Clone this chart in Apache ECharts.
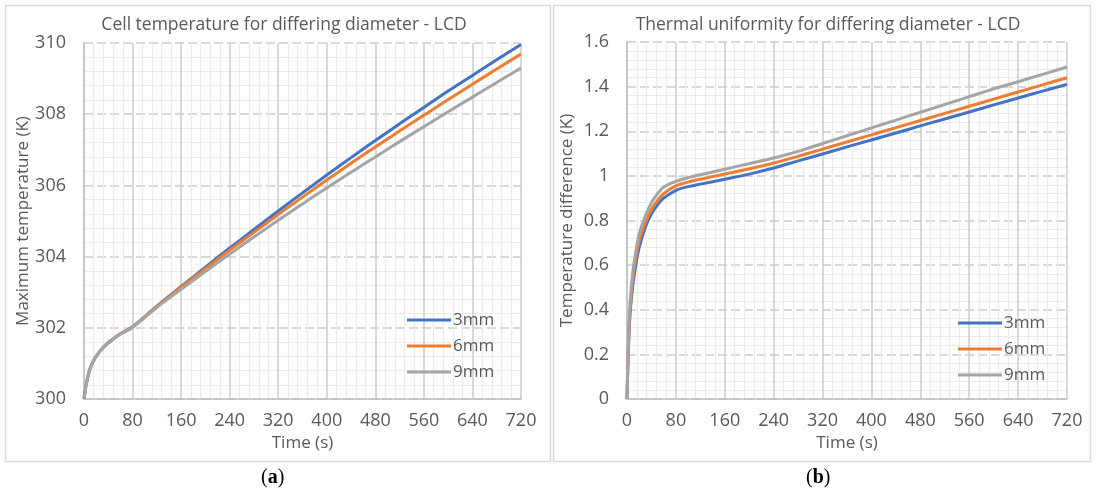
<!DOCTYPE html>
<html>
<head>
<meta charset="utf-8">
<script src="https://cdn.jsdelivr.net/npm/echarts@6/dist/echarts.min.js"></script>
<style>
html,body{margin:0;padding:0;background:#fff;}
#c{width:1097px;height:497px;}
</style>
</head>
<body>
<div id="c"></div>
<script>
// ---- Data: panel (a) Cell temperature ----
const timeA = [0,3,6,10,15,20,30,40,60,80,120,160,200,240,280,320,360,400,440,480,520,560,600,640,680,720];
const tempA_3mm = [300,300.35,300.6,300.85,301.05,301.2,301.42,301.58,301.83,302.03,302.61,303.16,303.70,304.24,304.76,305.28,305.79,306.29,306.78,307.26,307.73,308.19,308.65,309.09,309.53,309.96];
const tempA_6mm = [300,300.35,300.6,300.85,301.05,301.2,301.42,301.58,301.83,302.02,302.60,303.14,303.66,304.18,304.68,305.18,305.67,306.15,306.62,307.08,307.53,307.97,308.41,308.84,309.27,309.69];
const tempA_9mm = [300,300.35,300.6,300.85,301.05,301.2,301.42,301.58,301.82,302.01,302.57,303.08,303.58,304.07,304.55,305.02,305.48,305.93,306.37,306.80,307.23,307.65,308.07,308.48,308.89,309.30];

// ---- Data: panel (b) Thermal uniformity ----
const timeB = [0,2,5,10,15,20,30,40,50,60,80,100,120,160,200,240,280,320,360,400,440,480,520,560,600,640,680,720];
const diffB_3mm = [0,0.20,0.38,0.52,0.61,0.68,0.77,0.83,0.87,0.90,0.935,0.952,0.963,0.985,1.008,1.035,1.067,1.098,1.130,1.161,1.192,1.224,1.255,1.286,1.318,1.349,1.380,1.410];
const diffB_6mm = [0,0.21,0.40,0.55,0.64,0.71,0.79,0.85,0.89,0.92,0.955,0.972,0.985,1.008,1.032,1.058,1.088,1.120,1.152,1.184,1.216,1.248,1.280,1.312,1.344,1.376,1.408,1.440];
const diffB_9mm = [0,0.24,0.43,0.58,0.67,0.74,0.82,0.88,0.92,0.95,0.975,0.992,1.005,1.030,1.055,1.080,1.110,1.145,1.180,1.215,1.250,1.285,1.320,1.355,1.390,1.422,1.455,1.488];

const seriesNames = ['3mm','6mm','9mm'];
const colors = ['#4472C4','#ED7D31','#A5A5A5'];
const titles = ['Cell temperature for differing diameter - LCD','Thermal uniformity for differing diameter - LCD'];
const yNames = ['Maximum temperature (K)','Temperature difference (K)'];
const xName = 'Time (s)';

const FONT = 'Open Sans';
const TXT = '#595959';

function pairs(t, v){ return t.map((x,i)=>[x, v[i]]); }

function xAxis(gi){
  return {
    type:'value', gridIndex:gi, min:0, max:720, interval:80,
    name:xName, nameLocation:'middle', nameGap:34,
    nameTextStyle:{color:TXT, fontFamily:FONT, fontSize:17},
    axisLine:{show:true, lineStyle:{color:'#bfbfbf', width:1.5}},
    axisTick:{show:false},
    axisLabel:{color:TXT, fontFamily:FONT, fontSize:18, margin:13},
    splitLine:{show:true, lineStyle:{color:'#cccccc', width:1.5}},
    minorTick:{show:false, splitNumber:5},
    minorSplitLine:{show:true, lineStyle:{color:'#ebebeb', width:1.2}}
  };
}
function yAxis(gi, min, max, interval){
  return {
    type:'value', gridIndex:gi, min:min, max:max, interval:interval,
    name:yNames[gi], nameLocation:'middle', nameGap:gi===0?52:51,
    nameTextStyle:{color:TXT, fontFamily:FONT, fontSize:17},
    axisLine:{show:true, lineStyle:{color:'#bfbfbf', width:1.5}},
    axisTick:{show:false},
    axisLabel:{color:TXT, fontFamily:FONT, fontSize:18, margin:18},
    splitLine:{show:true, lineStyle:{color:'#cccccc', width:1.5, type:[9,4]}},
    minorTick:{show:false, splitNumber:5},
    minorSplitLine:{show:true, lineStyle:{color:'#ebebeb', width:1.2}}
  };
}

function lineSeries(name, data, color, gi){
  return {
    type:'line', name:name, xAxisIndex:gi, yAxisIndex:gi,
    data:data, symbol:'none', smooth:0.35,
    lineStyle:{color:color, width:3}, itemStyle:{color:color},
    animation:false
  };
}

const series = [
  lineSeries(seriesNames[0], pairs(timeA, tempA_3mm), colors[0], 0),
  lineSeries(seriesNames[1], pairs(timeA, tempA_6mm), colors[1], 0),
  lineSeries(seriesNames[2], pairs(timeA, tempA_9mm), colors[2], 0),
  lineSeries(seriesNames[0], pairs(timeB, diffB_3mm), colors[0], 1),
  lineSeries(seriesNames[1], pairs(timeB, diffB_6mm), colors[1], 1),
  lineSeries(seriesNames[2], pairs(timeB, diffB_9mm), colors[2], 1)
];

const legendBase = {
  orient:'vertical', data:seriesNames, icon:'rect', itemWidth:44, itemHeight:3, itemGap:8,
  textStyle:{color:TXT, fontFamily:FONT, fontSize:17, lineHeight:18, padding:[0,0,0,-3]},
  selectedMode:false
};

const chart = echarts.init(document.getElementById('c'), null, {renderer:'canvas'});
chart.setOption({
  backgroundColor:'#fff',
  animation:false,
  color:colors,
  title:[
    {text:titles[0], left:279, top:11, textAlign:'center', textStyle:{color:TXT, fontFamily:FONT, fontSize:17.5, fontWeight:'normal'}},
    {text:titles[1], left:823, top:11, textAlign:'center', textStyle:{color:TXT, fontFamily:FONT, fontSize:17.5, fontWeight:'normal'}}
  ],
  legend:[
    Object.assign({}, legendBase, {left:402, top:306}),
    Object.assign({}, legendBase, {left:953, top:309})
  ],
  grid:[
    {left:84, right:576, top:43, bottom:98},
    {left:627, right:30, top:42, bottom:98}
  ],
  xAxis:[xAxis(0), xAxis(1)],
  yAxis:[yAxis(0,300,310,2), yAxis(1,0,1.6,0.2)],
  series:series,
  graphic:[
    {type:'rect', shape:{x:5.5, y:5.5, width:545, height:456}, style:{fill:null, stroke:'#d9d9d9', lineWidth:1.5}, z:-1},
    {type:'rect', shape:{x:553.5, y:5.5, width:537, height:456}, style:{fill:null, stroke:'#d9d9d9', lineWidth:1.5}, z:-1},
    {type:'text', left:261, top:468, style:{text:'({b|a})', fill:'#000', font:'20px "Liberation Serif"', rich:{b:{fontWeight:'bold', fontFamily:'Liberation Serif', fontSize:20, fill:'#000'}}}},
    {type:'text', left:806, top:468, style:{text:'({b|b})', fill:'#000', font:'20px "Liberation Serif"', rich:{b:{fontWeight:'bold', fontFamily:'Liberation Serif', fontSize:20, fill:'#000'}}}}
  ]
});
</script>
</body>
</html>
